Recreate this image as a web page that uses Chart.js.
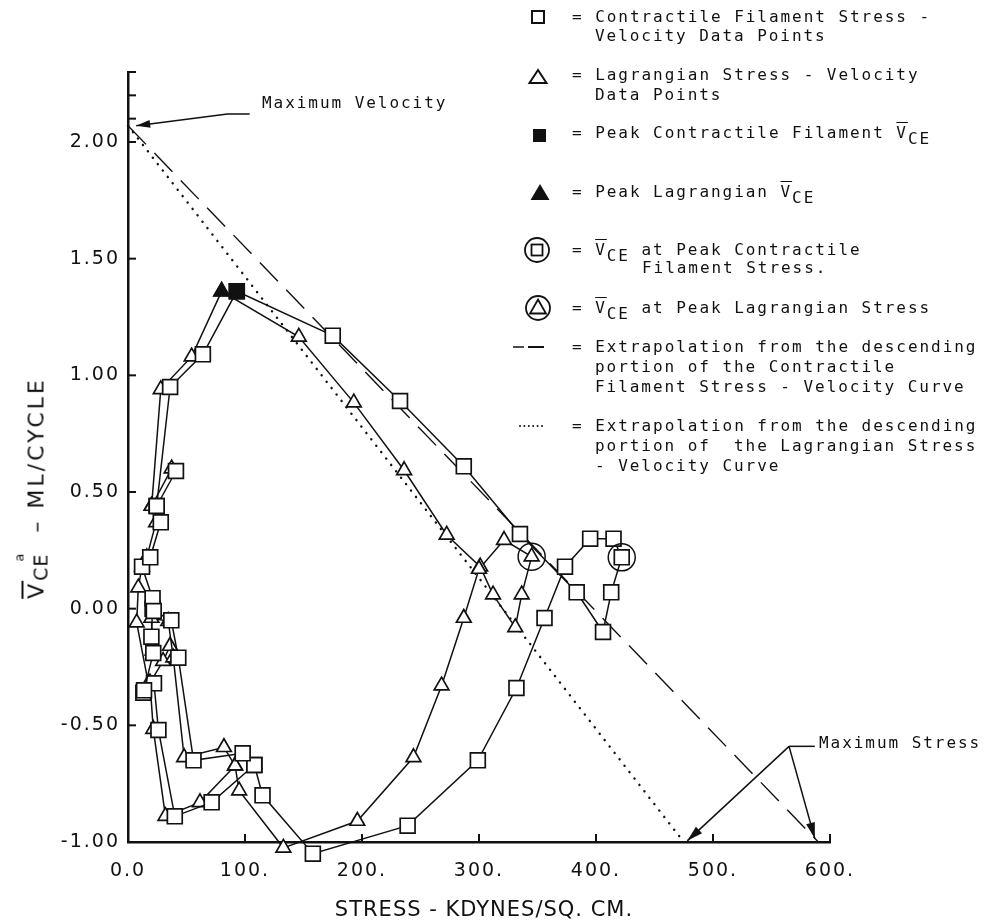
<!DOCTYPE html>
<html lang="en">
<head>
<meta charset="UTF-8" />
<title>Stress - Velocity</title>
<script src="https://cdn.jsdelivr.net/npm/chart.js"></script>
<style>
  body { margin: 0; background: #fff; }
  #wrap { position: relative; width: 988px; height: 920px; overflow: hidden; background: #fff; }
  #chart { position: absolute; left: 0; top: 0; }
  .mono {
    position: absolute;
    font-family: 'DejaVu Sans Mono', monospace;
    font-size: 16px;
    letter-spacing: 1.95px;
    line-height: 20px;
    color: #111;
    white-space: pre;
  }
  .ov { text-decoration: overline; }
  .sub { position: relative; top: 6px; }
  #ytitle {
    position: absolute; left: 36px; top: 488px;
    transform: translate(-50%, -50%) rotate(-90deg);
    font-family: 'DejaVu Sans', sans-serif; font-size: 22px; letter-spacing: 3px;
    color: #111; white-space: pre;
  }
  #ytitle .ysub { position: relative; top: 4px; font-size: 19px; letter-spacing: 1px; }
  #ytitle .ysup { position: relative; top: -20px; left: -8px; font-size: 13px; }
  #xtitle {
    position: absolute; left: 484px; top: 909px;
    transform: translate(-50%, -50%);
    font-family: 'DejaVu Sans', sans-serif; font-size: 21px; letter-spacing: 1px;
    color: #111; white-space: pre;
  }
</style>
</head>
<body>
<div id="wrap">
  <canvas id="chart" width="988" height="920"></canvas>

  <div class="mono" style="left:572px;top:7px">= Contractile Filament Stress -</div>
  <div class="mono" style="left:595px;top:26px">Velocity Data Points</div>
  <div class="mono" style="left:572px;top:65px">= Lagrangian Stress - Velocity</div>
  <div class="mono" style="left:595px;top:85px">Data Points</div>
  <div class="mono" style="left:572px;top:123px">= Peak Contractile Filament <span class="ov">V</span><span class="sub">CE</span></div>
  <div class="mono" style="left:572px;top:182px">= Peak Lagrangian <span class="ov">V</span><span class="sub">CE</span></div>
  <div class="mono" style="left:572px;top:240px">= <span class="ov">V</span><span class="sub">CE</span> at Peak Contractile</div>
  <div class="mono" style="left:642px;top:258px">Filament Stress.</div>
  <div class="mono" style="left:572px;top:298px">= <span class="ov">V</span><span class="sub">CE</span> at Peak Lagrangian Stress</div>
  <div class="mono" style="left:572px;top:337px">= Extrapolation from the descending</div>
  <div class="mono" style="left:595px;top:357px">portion of the Contractile</div>
  <div class="mono" style="left:595px;top:377px">Filament Stress - Velocity Curve</div>
  <div class="mono" style="left:572px;top:416px">= Extrapolation from the descending</div>
  <div class="mono" style="left:595px;top:436px">portion of  the Lagrangian Stress</div>
  <div class="mono" style="left:595px;top:456px">- Velocity Curve</div>

  <div class="mono" style="left:262px;top:93px">Maximum Velocity</div>
  <div class="mono" style="left:819px;top:733px">Maximum Stress</div>

  <div id="ytitle"><span class="ov">V</span><span class="ysub">CE</span><span class="ysup">a</span> – ML/CYCLE</div>
  <div id="xtitle">STRESS - KDYNES/SQ. CM.</div>
</div>

<script>
  // contractile filament stress - velocity points (squares), null = break in the line
  const cfStress   = [13.7, 21.6, 20, 21, 21, 12, 19, 28, 24.5, 36, 64, 93, 175, 232.5, 287, 335, 383.5, 406, 413, 422,
                      415, 395, 373.5, 356, 332, 299, 239, 158, 115, 108, 98, 56, 43, 37, 22,
                      null, 108, 71.5, 40, 26, 22.2, 13.1,
                      null, 24.5, 41];
  const cfVelocity = [-0.35, -0.19, -0.12, 0.00, 0.045, 0.18, 0.22, 0.37, 0.44, 0.95, 1.09, 1.36, 1.17, 0.89, 0.61, 0.32, 0.07, -0.10, 0.07, 0.22,
                      0.30, 0.30, 0.18, -0.04, -0.34, -0.65, -0.93, -1.05, -0.80, -0.67, -0.62, -0.65, -0.21, -0.05, -0.01,
                      null, -0.67, -0.83, -0.89, -0.52, -0.32, -0.36,
                      null, 0.44, 0.59];

  // lagrangian stress - velocity points (triangles)
  const lgStress   = [17.4, 7.4, 8.8, 12, 16, 24, 20.2, 28, 54.4, 80, 146, 193, 236, 272.4, 301, 312, 331, 336.5, 345, 321.4,
                      300, 287, 268, 244, 196, 132.8, 95, 91.5, 82, 48, 38.7, 34.4, 20, 21,
                      null, 91.5, 61.5, 32, 21.6, 18.8, 30, 35.9,
                      null, 20.2, 37.3];
  const lgVelocity = [-0.32, -0.06, 0.09, 0.18, 0.22, 0.37, 0.44, 0.94, 1.08, 1.36, 1.165, 0.883, 0.593, 0.316, 0.18, 0.06, -0.08, 0.06, 0.223, 0.294,
                      0.17, -0.04, -0.33, -0.637, -0.91, -1.025, -0.78, -0.673, -0.594, -0.637, -0.21, -0.054, -0.04, -0.18,
                      null, -0.673, -0.83, -0.889, -0.516, -0.317, -0.225, -0.16,
                      null, 0.44, 0.60];

  // special points
  const peakCF = [93, 1.36];
  const peakLG = [80, 1.36];
  const atPeakStressCF = [422, 0.22];
  const atPeakStressLG = [345, 0.223];

  // extrapolations of the descending portions
  const cfExtrapStress = [0, 590];
  const cfExtrapVel    = [2.07, -1.0];
  const lgExtrapStress = [0, 475];
  const lgExtrapVel    = [2.07, -1.0];

  // axes
  const xTickValues = [0, 100, 200, 300, 400, 500, 600];
  const xTickLabels = ['0.0', '100.', '200.', '300.', '400.', '500.', '600.'];
  const yTickValues = [-1.0, -0.5, 0.0, 0.5, 1.0, 1.5, 2.0];
  const yTickLabels = ['-1.00', '-0.50', '0.00', '0.50', '1.00', '1.50', '2.00'];
  const yMinorTicks = [2.1, 2.2, 2.3];

  // annotation arrows (value coordinates)
  const maxVelArrow = [[104, 2.12], [85, 2.12], [7, 2.07]];
  const maxStressBracket = [[587, -0.59], [565, -0.59]];
  const maxStressArrows = [[[565, -0.59], [478, -0.995]], [[565, -0.59], [587, -0.985]]];

  const INK = '#111';

  function segments(xs, ys) {
    const out = [];
    let cur = [];
    xs.forEach((x, i) => {
      if (x === null) { if (cur.length) out.push(cur); cur = []; }
      else cur.push({ x, y: ys[i] });
    });
    if (cur.length) out.push(cur);
    return out;
  }

  const datasets = [];

  // overlays on top
  datasets.push({ data: [{ x: peakCF[0], y: peakCF[1] }], pointStyle: 'rect', pointRadius: 10.5,
    backgroundColor: INK, borderColor: INK, borderWidth: 1.6, showLine: false, clip: false, order: 0 });
  datasets.push({ data: [{ x: peakLG[0], y: peakLG[1] }], pointStyle: 'triangle', pointRadius: 9,
    backgroundColor: INK, borderColor: INK, borderWidth: 1.6, showLine: false, clip: false, order: 0 });
  datasets.push({ data: [{ x: atPeakStressCF[0], y: atPeakStressCF[1] }, { x: atPeakStressLG[0], y: atPeakStressLG[1] }],
    pointStyle: 'circle', pointRadius: 13.5, backgroundColor: 'rgba(0,0,0,0)', borderColor: INK, borderWidth: 1.5,
    showLine: false, clip: false, order: 0 });

  segments(cfStress, cfVelocity).forEach(seg => datasets.push({
    data: seg, showLine: true, borderColor: INK, borderWidth: 1.5,
    pointStyle: 'rect', pointRadius: 10.5, pointBackgroundColor: '#fff', pointBorderColor: INK, pointBorderWidth: 1.7,
    clip: false, order: 1
  }));
  segments(lgStress, lgVelocity).forEach(seg => datasets.push({
    data: seg, showLine: true, borderColor: INK, borderWidth: 1.5,
    pointStyle: 'triangle', pointRadius: 8.5, pointBackgroundColor: '#fff', pointBorderColor: INK, pointBorderWidth: 1.7,
    clip: false, order: 2
  }));

  datasets.push({ data: cfExtrapStress.map((x, i) => ({ x, y: cfExtrapVel[i] })), showLine: true,
    borderColor: INK, borderWidth: 1.4, borderDash: [26, 12], pointRadius: 0, clip: false, order: 3 });
  datasets.push({ data: lgExtrapStress.map((x, i) => ({ x, y: lgExtrapVel[i] })), showLine: true,
    borderColor: INK, borderWidth: 2.4, borderDash: [0.1, 8], borderCapStyle: 'round', pointRadius: 0, clip: false, order: 3 });

  function arrowHead(ctx, x1, y1, x2, y2, len, half) {
    const a = Math.atan2(y2 - y1, x2 - x1);
    const bx = x2 - len * Math.cos(a), by = y2 - len * Math.sin(a);
    ctx.beginPath();
    ctx.moveTo(x2, y2);
    ctx.lineTo(bx + half * Math.sin(a), by - half * Math.cos(a));
    ctx.lineTo(bx - half * Math.sin(a), by + half * Math.cos(a));
    ctx.closePath();
    ctx.fill();
  }

  function polyline(ctx, pts) {
    ctx.beginPath();
    ctx.moveTo(pts[0][0], pts[0][1]);
    for (let i = 1; i < pts.length; i++) ctx.lineTo(pts[i][0], pts[i][1]);
    ctx.stroke();
  }

  const decor = {
    id: 'decor',
    beforeDraw(chart) {
      chart.ctx.letterSpacing = '2px';
    },
    afterDraw(chart) {
      const { ctx, chartArea, scales: { x, y } } = chart;
      const px = p => [x.getPixelForValue(p[0]), y.getPixelForValue(p[1])];
      ctx.save();
      ctx.letterSpacing = '0px';
      ctx.strokeStyle = INK;
      ctx.fillStyle = INK;
      ctx.lineWidth = 2;
      ctx.setLineDash([]);

      // inward tick marks
      xTickValues.forEach(v => {
        if (v === 0) return;
        const p = x.getPixelForValue(v);
        polyline(ctx, [[p, chartArea.bottom], [p, chartArea.bottom - 8]]);
      });
      yTickValues.concat(yMinorTicks).forEach(v => {
        if (v === -1.0) return;
        const p = y.getPixelForValue(v);
        polyline(ctx, [[chartArea.left, p], [chartArea.left + 8, p]]);
      });

      // annotation arrows
      ctx.lineWidth = 1.5;
      const mv = maxVelArrow.map(px);
      polyline(ctx, mv);
      arrowHead(ctx, mv[1][0], mv[1][1], mv[2][0], mv[2][1], 14, 4);

      polyline(ctx, maxStressBracket.map(px));
      maxStressArrows.forEach(a => {
        const pts = a.map(px);
        polyline(ctx, pts);
        arrowHead(ctx, pts[0][0], pts[0][1], pts[1][0], pts[1][1], 16, 4.5);
      });

      // legend symbols
      ctx.lineWidth = 2;
      ctx.strokeRect(532, 11, 12, 12);
      ctx.beginPath(); ctx.moveTo(538, 70); ctx.lineTo(546.5, 83); ctx.lineTo(529.5, 83); ctx.closePath(); ctx.stroke();
      ctx.fillRect(533, 129, 13, 13);
      ctx.beginPath(); ctx.moveTo(540, 184); ctx.lineTo(549.5, 200); ctx.lineTo(530.5, 200); ctx.closePath(); ctx.fill();
      ctx.lineWidth = 1.8;
      ctx.beginPath(); ctx.arc(537, 250, 12, 0, Math.PI * 2); ctx.stroke();
      ctx.strokeRect(531.5, 244.5, 11, 11);
      ctx.beginPath(); ctx.arc(538, 308, 12, 0, Math.PI * 2); ctx.stroke();
      ctx.beginPath(); ctx.moveTo(538, 299.5); ctx.lineTo(546, 313.5); ctx.lineTo(530, 313.5); ctx.closePath(); ctx.stroke();
      ctx.lineWidth = 1.5;
      polyline(ctx, [[513, 347], [524, 347]]);
      ctx.lineWidth = 2;
      polyline(ctx, [[528, 347], [544, 347]]);
      for (let i = 0; i < 6; i++) {
        ctx.beginPath(); ctx.arc(520 + i * 4.4, 426, 1, 0, Math.PI * 2); ctx.fill();
      }
      ctx.restore();
    }
  };

  new Chart(document.getElementById('chart'), {
    type: 'scatter',
    data: { datasets },
    options: {
      responsive: false,
      animation: false,
      events: [],
      layout: { padding: { left: 0, right: 158, top: 72, bottom: 0 } },
      plugins: { legend: { display: false }, tooltip: { enabled: false } },
      scales: {
        x: {
          type: 'linear', min: 0, max: 600,
          afterFit: s => { s.height = 78; },
          afterBuildTicks: s => { s.ticks = xTickValues.map(v => ({ value: v })); },
          ticks: {
            autoSkip: false, maxRotation: 0, padding: 18, color: INK,
            font: { family: 'DejaVu Sans', size: 19 },
            callback: v => xTickLabels[xTickValues.indexOf(v)] ?? ''
          },
          grid: { display: false, drawTicks: false },
          border: { color: INK, width: 2.5 }
        },
        y: {
          type: 'linear', min: -1.0, max: 2.3,
          afterFit: s => { s.width = 128; },
          afterBuildTicks: s => { s.ticks = yTickValues.map(v => ({ value: v })); },
          ticks: {
            autoSkip: false, padding: 8, color: INK,
            font: { family: 'DejaVu Sans', size: 19 },
            callback: v => yTickLabels[yTickValues.indexOf(v)] ?? ''
          },
          grid: { display: false, drawTicks: false },
          border: { color: INK, width: 2.5 }
        }
      }
    },
    plugins: [decor]
  });
</script>
</body>
</html>
